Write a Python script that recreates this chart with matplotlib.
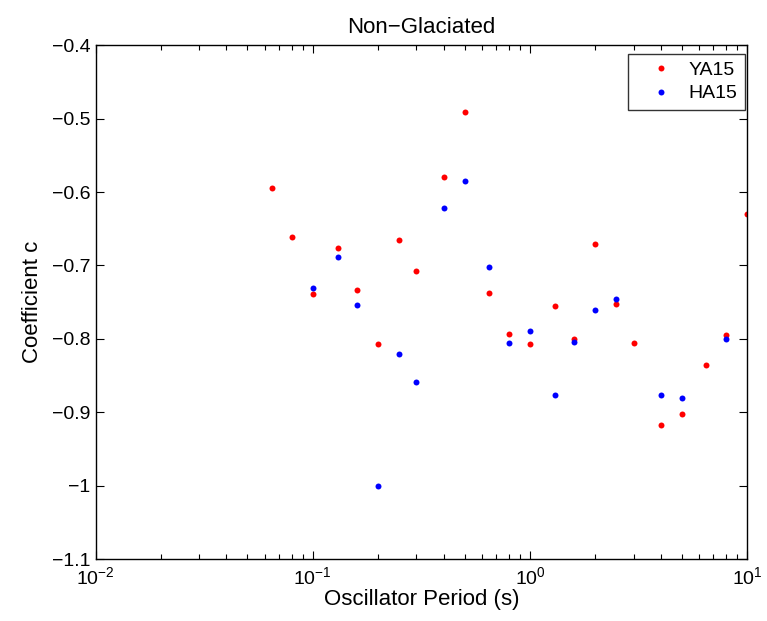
import matplotlib
matplotlib.use("Agg")
import matplotlib.pyplot as plt
from matplotlib.ticker import FixedLocator, FixedFormatter, LogLocator, NullFormatter

plt.rcParams['font.family'] = ['Liberation Sans', 'DejaVu Sans']
plt.rcParams['mathtext.fontset'] = 'custom'
plt.rcParams['mathtext.rm'] = 'Liberation Sans'
plt.rcParams['axes.unicode_minus'] = True

# YA15 coefficients (red)
ya_period = [0.065, 0.08, 0.1, 0.13, 0.16, 0.2, 0.25, 0.3, 0.4, 0.5, 0.65, 0.8,
             1.0, 1.3, 1.6, 2.0, 2.5, 3.0, 4.0, 5.0, 6.5, 8.0, 10.0]
ya_coef = [-0.595, -0.661, -0.739, -0.676, -0.734, -0.807, -0.665, -0.707, -0.579,
           -0.491, -0.737, -0.793, -0.807, -0.755, -0.800, -0.671, -0.752, -0.805,
           -0.917, -0.902, -0.836, -0.795, -0.630]

# HA15 coefficients (blue)
ha_period = [0.1, 0.13, 0.16, 0.2, 0.25, 0.3, 0.4, 0.5, 0.65, 0.8, 1.0, 1.3,
             1.6, 2.0, 2.5, 4.0, 5.0, 8.0]
ha_coef = [-0.730, -0.688, -0.754, -1.000, -0.820, -0.859, -0.621, -0.585, -0.702,
           -0.806, -0.789, -0.876, -0.804, -0.760, -0.745, -0.877, -0.880, -0.800]

y_ticks = [-1.1, -1.0, -0.9, -0.8, -0.7, -0.6, -0.5, -0.4]
y_labels = ['\u22121.1', '\u22121', '\u22120.9', '\u22120.8', '\u22120.7', '\u22120.6',
            '\u22120.5', '\u22120.4']

fig = plt.figure(figsize=(7.67, 6.21), dpi=100)
ax = fig.add_axes([0.1248, 0.0998, 0.974 - 0.1248, 0.927 - 0.0998])

ax.plot(ya_period, ya_coef, 'o', color='red', markersize=4.3, markeredgewidth=0, label='YA15')
ax.plot(ha_period, ha_coef, 'o', color='blue', markersize=4.3, markeredgewidth=0, label='HA15')

ax.set_xscale('log')
ax.set_xlim(0.01, 10)
ax.set_ylim(-1.1, -0.4)
ax.yaxis.set_major_locator(FixedLocator(y_ticks))
ax.yaxis.set_major_formatter(FixedFormatter(y_labels))
ax.xaxis.set_minor_locator(LogLocator(base=10, subs=range(2, 10)))
ax.xaxis.set_minor_formatter(NullFormatter())

ax.tick_params(which='both', direction='in', top=True, right=True, labelsize=14, width=0.8)
ax.tick_params(which='major', length=6)
ax.tick_params(which='minor', length=3.5)
ax.tick_params(axis='x', pad=5)
ax.tick_params(axis='y', pad=4)
for s in ax.spines.values():
    s.set_linewidth(1.0)

ax.set_title('Non\u2212Glaciated', fontsize=16, pad=9)
ax.set_xlabel('Oscillator Period (s)', fontsize=16, labelpad=1)
ax.set_ylabel('Coefficient c', fontsize=16, labelpad=6)

leg = ax.legend(loc='upper right', bbox_to_anchor=(0.997, 0.984), fontsize=14,
                frameon=True, fancybox=False, handletextpad=0.1, borderpad=0.4,
                labelspacing=0.3, handlelength=2.6, borderaxespad=0)
leg.get_frame().set_edgecolor('black')
leg.get_frame().set_linewidth(1.0)

fig.savefig('out.png', dpi=100)
